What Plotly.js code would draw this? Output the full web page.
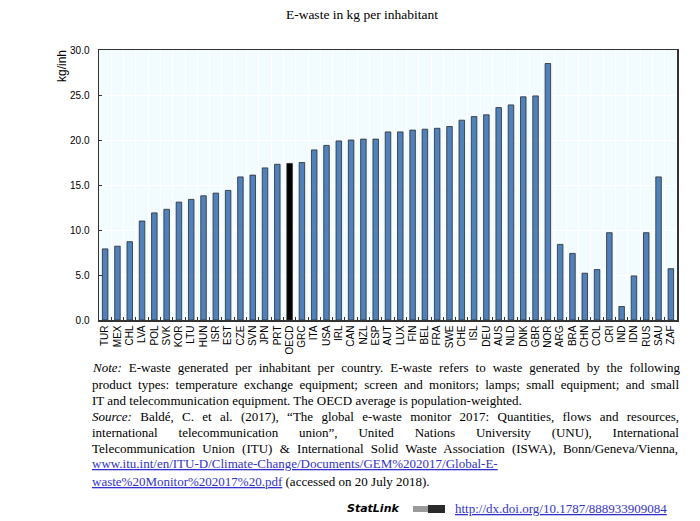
<!DOCTYPE html>
<html>
<head>
<meta charset="utf-8">
<script src="https://cdn.plot.ly/plotly-3.0.1.min.js"></script>
<style>html,body{margin:0;padding:0;background:#fff;}#chart{width:700px;height:521px;}</style>
</head>
<body>
<div id="chart"></div>
<script>
const countries = ["TUR","MEX","CHL","LVA","POL","SVK","KOR","LTU","HUN","ISR","EST","CZE","SVN","JPN","PRT","OECD","GRC","ITA","USA","IRL","CAN","NZL","ESP","AUT","LUX","FIN","BEL","FRA","SWE","CHE","ISL","DEU","AUS","NLD","DNK","GBR","NOR","ARG","BRA","CHN","COL","CRI","IND","IDN","RUS","SAU","ZAF"];
const ewaste = [7.9,8.2,8.7,11.0,11.9,12.3,13.1,13.4,13.8,14.1,14.4,15.9,16.1,16.9,17.3,17.4,17.5,18.9,19.4,19.9,20.0,20.1,20.1,20.9,20.9,21.1,21.2,21.3,21.5,22.2,22.6,22.8,23.6,23.9,24.8,24.9,28.5,8.4,7.4,5.2,5.6,9.7,1.5,4.9,9.7,15.9,5.7];
const yTicks = [0,5,10,15,20,25,30];
const yTickLabels = ["0.0","5.0","10.0","15.0","20.0","25.0","30.0"];
const highlight = "OECD";

// each note line: [italic prefix, body, justified?]
const noteLines = [
  ["Note:", " E-waste generated per inhabitant per country. E-waste refers to waste generated by the following", true],
  ["", "product types: temperature exchange equipment; screen and monitors; lamps; small equipment; and small", true],
  ["", "IT and telecommunication equipment. The OECD average is population-weighted.", false],
  ["Source:", " Baldé, C. et al. (2017), “The global e-waste monitor 2017: Quantities, flows and resources,", true],
  ["", "international telecommunication union”, United Nations University (UNU), International", true],
  ["", "Telecommunication Union (ITU) & International Solid Waste Association (ISWA), Bonn/Geneva/Vienna,", true]
];
const linkLine1 = "www.itu.int/en/ITU-D/Climate-Change/Documents/GEM%202017/Global-E-";
const linkLine2 = "waste%20Monitor%202017%20.pdf";
const linkTail = " (accessed on 20 July 2018).";
const statLinkUrl = "http://dx.doi.org/10.1787/888933909084";

const colors = countries.map(c => c === highlight ? "#000000" : "#4f81bd");

// plot area in pixels
const L = 99, R = 677, T = 50, B = 320;
const pw = R - L, ph = B - T;
const px = x => (x - L) / pw;
const py = y => (B - y) / ph;

const serif = "Liberation Serif, Times New Roman, serif";
const noteSize = 13;
const textLeft = 90, textRight = 677;
const cv = document.createElement("canvas").getContext("2d");
function measure(str, italic) {
  cv.font = (italic ? "italic " : "") + noteSize + "px 'Liberation Serif'";
  return cv.measureText(str).width;
}
const linkStyle = "color:#3333cc;text-decoration:underline";

const annotations = [];
const lineY = [367, 384, 400, 416, 432, 448, 464, 481];
noteLines.forEach((ln, i) => {
  const [pre, body, just] = ln;
  let html = (pre ? "<i>" + pre + "</i>" : "") + body;
  if (just) {
    const w = measure(pre, true) + measure(body, false);
    const nSpaces = (pre + body).split(" ").length - 1;
    const ws = Math.max(0, (textRight - textLeft - w) / nSpaces);
    html = "<span style=\"word-spacing:" + ws.toFixed(2) + "px\">" + html + "</span>";
  }
  annotations.push({
    text: html, xref: "paper", yref: "paper", x: px(textLeft), y: py(lineY[i]),
    xanchor: "left", yanchor: "middle", showarrow: false, align: "left",
    font: {family: serif, size: noteSize, color: "#000"}
  });
});
annotations.push({
  text: "<span style=\"" + linkStyle + "\">" + linkLine1 + "</span>",
  xref: "paper", yref: "paper", x: px(textLeft), y: py(lineY[6]),
  xanchor: "left", yanchor: "middle", showarrow: false, align: "left",
  font: {family: serif, size: noteSize, color: "#000"}
});
annotations.push({
  text: "<span style=\"" + linkStyle + "\">" + linkLine2 + "</span>" + linkTail,
  xref: "paper", yref: "paper", x: px(textLeft), y: py(lineY[7]),
  xanchor: "left", yanchor: "middle", showarrow: false, align: "left",
  font: {family: serif, size: noteSize, color: "#000"}
});
annotations.push({
  text: "<b><i>StatLink</i></b>", xref: "paper", yref: "paper", x: px(345), y: py(508),
  xanchor: "left", yanchor: "middle", showarrow: false,
  font: {family: "DejaVu Sans, sans-serif", size: 11, color: "#000"}
});
annotations.push({
  text: "<span style=\"" + linkStyle + "\">" + statLinkUrl + "</span>",
  xref: "paper", yref: "paper", x: px(453), y: py(508),
  xanchor: "left", yanchor: "middle", showarrow: false,
  font: {family: serif, size: noteSize, color: "#3333cc"}
});
annotations.push({
  text: "kg/inh", xref: "paper", yref: "paper", x: px(62), y: py(66),
  xanchor: "center", yanchor: "middle", showarrow: false, textangle: -90,
  font: {family: "Liberation Sans, Arial, sans-serif", size: 12, color: "#000"}
});

// small StatLink logo block
const shapes = [
  {type: "rect", xref: "paper", yref: "paper", x0: px(413), x1: px(428), y0: py(512), y1: py(506),
   fillcolor: "#9a9a9a", line: {width: 0}},
  {type: "rect", xref: "paper", yref: "paper", x0: px(428), x1: px(445), y0: py(513), y1: py(505),
   fillcolor: "#2a2a2a", line: {width: 0}}
];

const trace = {
  type: "bar",
  x: countries,
  y: ewaste,
  marker: {color: colors, line: {color: "#2b2b2b", width: 0.8}},
  hoverinfo: "x+y"
};

const layout = {
  width: 700, height: 521,
  margin: {l: L, r: 700 - R, t: T, b: 521 - B, pad: 0},
  paper_bgcolor: "#ffffff",
  plot_bgcolor: "#f2fcff",
  bargap: 0.55,
  showlegend: false,
  title: {text: "E-waste in kg per inhabitant", x: 362 / 700, xref: "container", xanchor: "center",
          y: 1 - 14/521, yanchor: "middle",
          font: {family: serif, size: 13.5, color: "#000"}},
  xaxis: {
    type: "category", tickangle: -90, tickson: "boundaries",
    ticks: "inside", ticklen: 3, tickcolor: "#333", tickwidth: 1,
    showgrid: true, gridcolor: "#ffffff", gridwidth: 1,
    showline: true, linecolor: "#333", linewidth: 1.5, mirror: true,
    tickfont: {family: "Liberation Sans, Arial, sans-serif", size: 10, color: "#000"},
    automargin: false, fixedrange: true
  },
  yaxis: {
    range: [0, 30], tickvals: yTicks, ticktext: yTickLabels,
    ticks: "inside", ticklen: 3, tickcolor: "#333",
    ticklabelstandoff: 6,
    showgrid: true, gridcolor: "#ffffff", gridwidth: 1, zeroline: false,
    showline: true, linecolor: "#333", linewidth: 1.5, mirror: true,
    tickfont: {family: "Liberation Sans, Arial, sans-serif", size: 10, color: "#000"},
    automargin: false, fixedrange: true
  },
  shapes: shapes,
  annotations: annotations
};

Plotly.newPlot("chart", [trace], layout, {displayModeBar: false, staticPlot: true});
</script>
</body>
</html>
